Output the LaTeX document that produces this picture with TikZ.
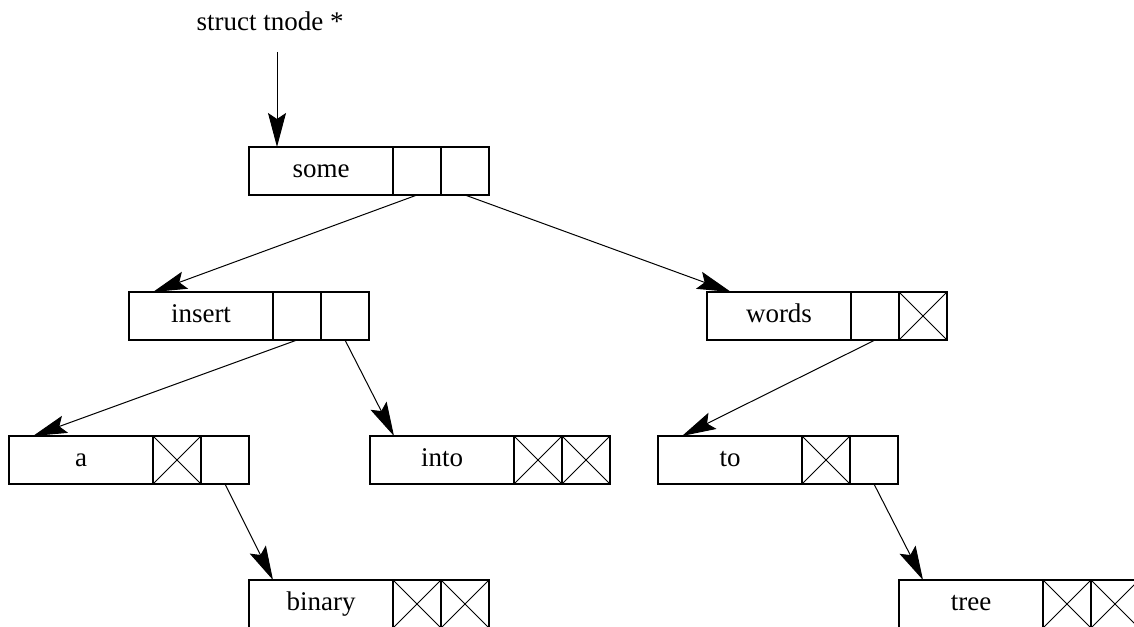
\documentclass[tikz,border=0pt]{standalone}
\usepackage{fontspec}
\setmainfont{Liberation Serif}
\usetikzlibrary{arrows.meta, positioning}

\begin{document}
\begin{tikzpicture}[
    x=0.5pt, y=-0.5pt,
    keybox/.style={rectangle, draw=black, line width=0.6pt, minimum width=72pt, minimum height=24pt, inner sep=0pt, outer sep=0pt, text height=8pt, text depth=2pt, anchor=north west, font=\fontsize{13.5}{16}\selectfont},
    ptrcell/.style={rectangle, draw=black, line width=0.6pt, minimum width=24pt, minimum height=24pt, inner sep=0pt, outer sep=0pt},
    nilcell/.style={ptrcell, path picture={\draw[line width=0.45pt] (path picture bounding box.north west) -- (path picture bounding box.south east) (path picture bounding box.south west) -- (path picture bounding box.north east);}},
    arrow/.style={-{Stealth[length=17pt, width=9pt, inset=3pt]}, line width=0.5pt},
    label/.style={font=\fontsize{13.5}{16}\selectfont}
]
\clip (0,0) rectangle (1134,626);

% === ROOT POINTER ===
\node (head) [label] at (270,21) {struct tnode *};
\coordinate (root) at (277,52);

% === LEVEL 0 ===
\node (some) [keybox] at (249,147) {some};
\node (some-l) [ptrcell, right=0pt of some] {};
\node (some-r) [ptrcell, right=0pt of some-l] {};

% === LEVEL 1 ===
\node (insert) [keybox] at (129,292) {insert};
\node (insert-l) [ptrcell, right=0pt of insert] {};
\node (insert-r) [ptrcell, right=0pt of insert-l] {};

\node (words) [keybox] at (707,292) {words};
\node (words-l) [ptrcell, right=0pt of words] {};
\node (words-r) [nilcell, right=0pt of words-l] {};

% === LEVEL 2 ===
\node (a) [keybox] at (9,436) {a};
\node (a-l) [nilcell, right=0pt of a] {};
\node (a-r) [ptrcell, right=0pt of a-l] {};

\node (into) [keybox] at (370,436) {into};
\node (into-l) [nilcell, right=0pt of into] {};
\node (into-r) [nilcell, right=0pt of into-l] {};

\node (to) [keybox] at (658,436) {to};
\node (to-l) [nilcell, right=0pt of to] {};
\node (to-r) [ptrcell, right=0pt of to-l] {};

% === LEVEL 3 ===
\node (binary) [keybox] at (249,580) {binary};
\node (binary-l) [nilcell, right=0pt of binary] {};
\node (binary-r) [nilcell, right=0pt of binary-l] {};

\node (tree) [keybox] at (899,580) {tree};
\node (tree-l) [nilcell, right=0pt of tree] {};
\node (tree-r) [nilcell, right=0pt of tree-l] {};

% === ARROWS ===
\draw [arrow] (root) -- ([xshift=14pt]some.north west);
\draw [arrow] (some-l.south) -- ([xshift=12pt]insert.north west);
\draw [arrow] (some-r.south) -- ([xshift=12pt]words.north west);
\draw [arrow] (insert-l.south) -- ([xshift=12pt]a.north west);
\draw [arrow] (insert-r.south) -- ([xshift=12pt]into.north west);
\draw [arrow] (words-l.south) -- ([xshift=12pt]to.north west);
\draw [arrow] (a-r.south) -- ([xshift=12pt]binary.north west);
\draw [arrow] (to-r.south) -- ([xshift=12pt]tree.north west);

\end{tikzpicture}
\end{document}
